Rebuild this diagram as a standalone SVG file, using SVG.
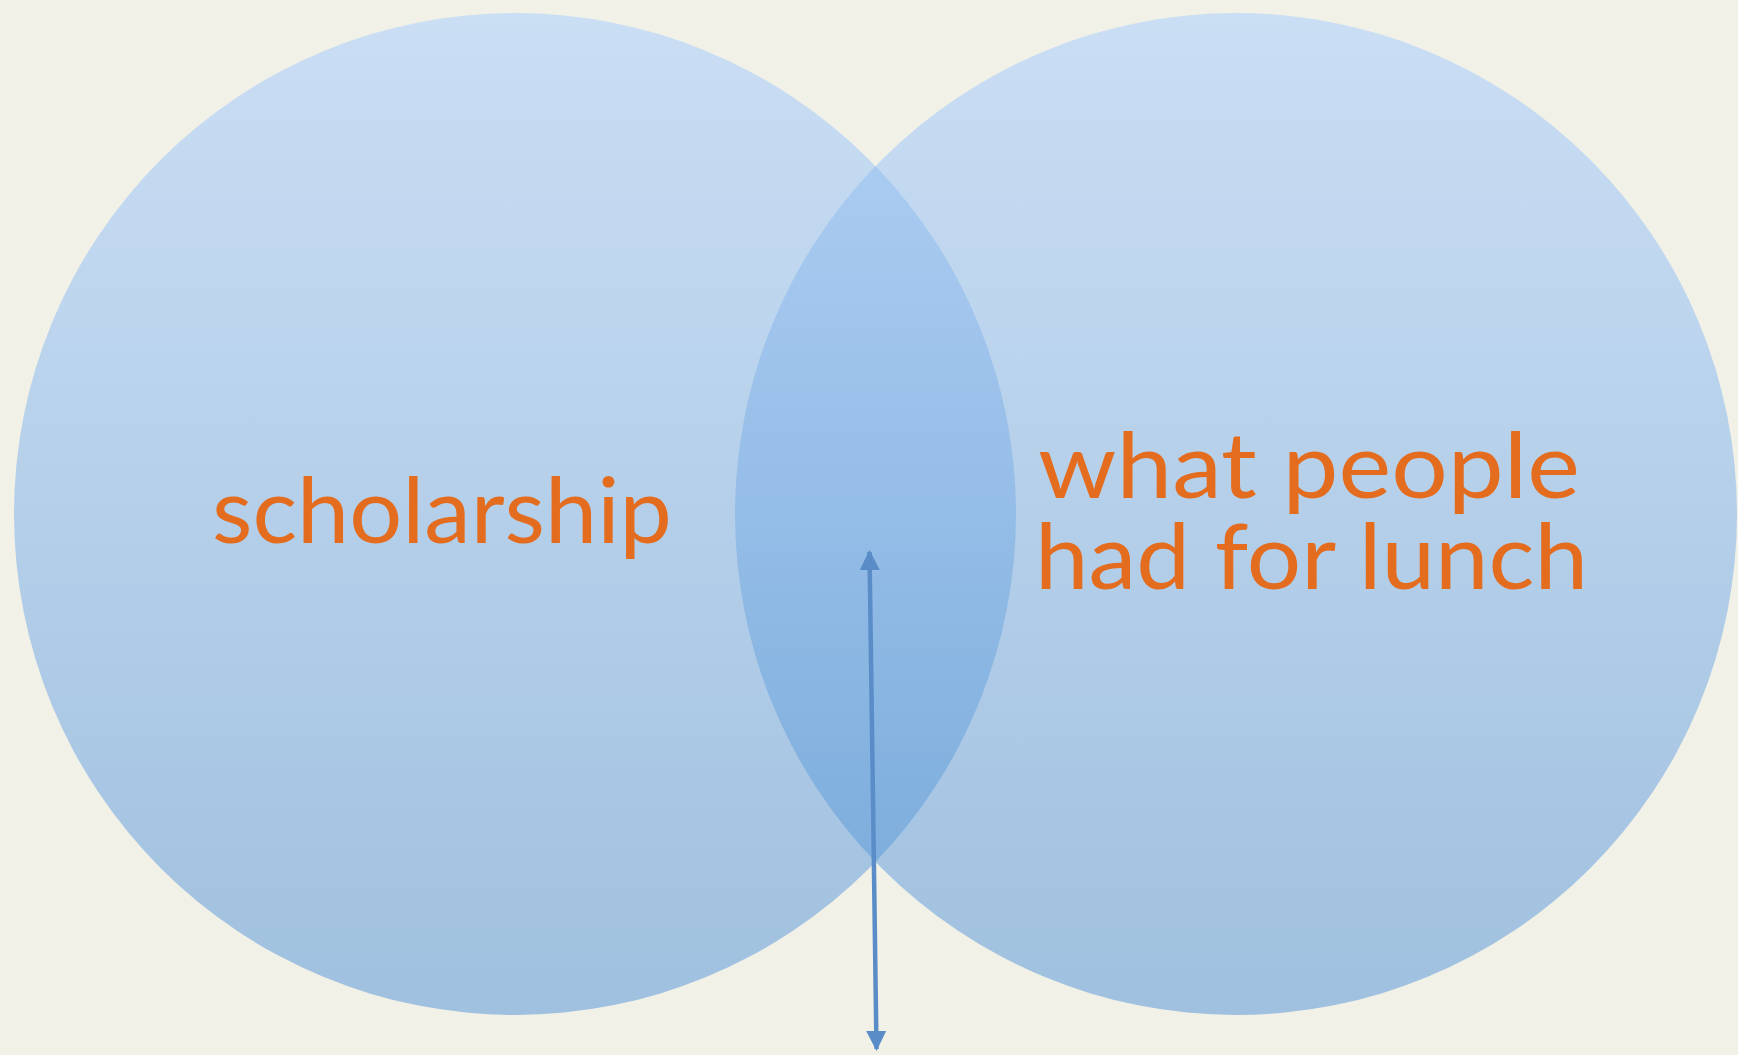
<svg xmlns="http://www.w3.org/2000/svg" width="1738" height="1055" viewBox="0 0 1738 1055">
  <defs>
    <linearGradient id="circleGrad" gradientUnits="userSpaceOnUse" x1="0" y1="13" x2="0" y2="1015">
      <stop offset="0" stop-color="#cadef4"/>
      <stop offset="1" stop-color="#9fc0df"/>
    </linearGradient>
    <linearGradient id="lensGrad" gradientUnits="userSpaceOnUse" x1="0" y1="166" x2="0" y2="862">
      <stop offset="0" stop-color="#aacbf1"/>
      <stop offset="1" stop-color="#7eaedd"/>
    </linearGradient>
    <marker id="arrowHead" viewBox="0 0 10 10" refX="9" refY="5" markerWidth="4.5" markerHeight="5" orient="auto-start-reverse" markerUnits="strokeWidth">
      <path d="M0,0 L10,5 L0,10 z" fill="#5a8cc8"/>
    </marker>
    <style>
      .circle { fill: url(#circleGrad); }
      .lens { fill: url(#lensGrad); }
      .label { font-family: "Lato", "Liberation Sans", sans-serif; font-weight: 400; font-size: 92px; fill: #e46c1e; }
      .conn { stroke: #5a8cc8; stroke-width: 4.5; fill: none; }
    </style>
  </defs>
  <rect x="0" y="0" width="1738" height="1055" fill="#f2f1e8"/>
  <g id="node-scholarship">
    <circle class="circle" cx="515" cy="514" r="501"/>
  </g>
  <g id="node-lunch">
    <circle class="circle" cx="1236" cy="514" r="501"/>
  </g>
  <g id="node-overlap">
    <path class="lens" d="M875.5,166.1 A501,501 0 0 1 875.5,861.9 A501,501 0 0 1 875.5,166.1 Z"/>
  </g>
  <g id="labels">
    <text class="label" x="212" y="543" textLength="460" lengthAdjust="spacingAndGlyphs">scholarship</text>
    <text class="label" x="1038" y="498" textLength="542" lengthAdjust="spacingAndGlyphs">what people</text>
    <text class="label" x="1035" y="589" textLength="553" lengthAdjust="spacingAndGlyphs">had for lunch</text>
  </g>
  <g id="connectors">
    <line class="conn" x1="869.5" y1="552" x2="876.5" y2="1049" marker-start="url(#arrowHead)" marker-end="url(#arrowHead)"/>
  </g>
</svg>
